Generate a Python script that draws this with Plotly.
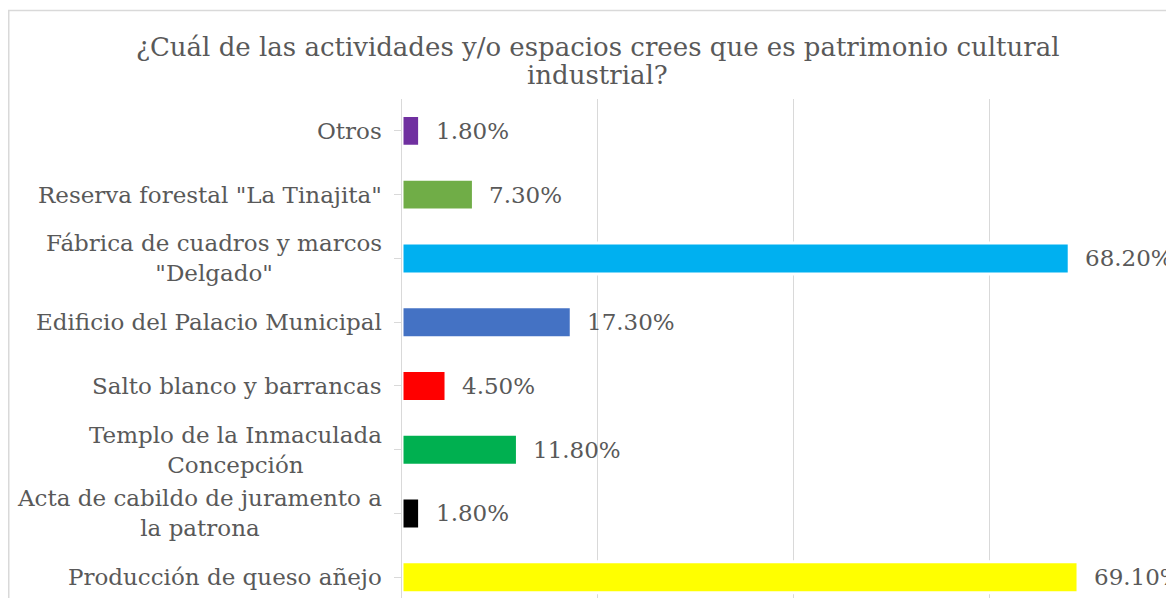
import plotly.graph_objects as go

# Data (bottom to top, as plotly stacks categories)
categories = [
    "Producción de queso añejo",
    "Acta de cabildo de juramento a<br>la patrona",
    "Templo de la Inmaculada<br>Concepción",
    "Salto blanco y barrancas",
    "Edificio del Palacio Municipal",
    "Fábrica de cuadros y marcos<br>\"Delgado\"",
    "Reserva forestal \"La Tinajita\"",
    "Otros",
]
values = [69.1, 1.8, 11.8, 4.5, 17.3, 68.2, 7.3, 1.8]
labels = ["69.10%", "1.80%", "11.80%", "4.50%", "17.30%", "68.20%", "7.30%", "1.80%"]
colors = ["#FFFF00", "#000000", "#00B050", "#FF0000", "#4472C4", "#00B0F0", "#70AD47", "#7030A0"]
title_lines = ["¿Cuál de las actividades y/o espacios crees que es patrimonio cultural", "industrial?"]

FONT = "DejaVu Serif"
TXT = "#595959"
GRID = "#D9D9D9"

fig = go.Figure()
fig.add_trace(go.Bar(
    y=list(range(len(categories))),
    x=values,
    orientation="h",
    marker=dict(color=colors, line=dict(color="white", width=3)),
    width=0.486,
    hoverinfo="skip",
))

annotations = []
for i, (cat, v, lab) in enumerate(zip(categories, values, labels)):
    annotations.append(dict(
        x=v, y=i, xref="x", yref="y", text=lab, showarrow=False,
        xanchor="left", yanchor="middle", xshift=14,
        font=dict(family=FONT, size=23, color=TXT),
    ))
    annotations.append(dict(
        x=0, y=i, xref="paper", yref="y", text=cat, showarrow=False,
        xanchor="right", yanchor="middle", xshift=-18, align="center",
        font=dict(family=FONT, size=23, color=TXT),
    ))

for ty, line in zip([1.1042, 1.0481], title_lines):
    annotations.append(dict(
        x=0.2526, y=ty, xref="paper", yref="paper", text=line, showarrow=False,
        xanchor="center", yanchor="middle",
        font=dict(family=FONT, size=26, color=TXT),
    ))

fig.update_layout(
    width=1166, height=590,
    margin=dict(l=394, r=0, t=91, b=0, pad=0),
    paper_bgcolor="white", plot_bgcolor="white",
    showlegend=False,
    xaxis=dict(range=[0, 78.91], showgrid=True, gridcolor=GRID, gridwidth=1,
               dtick=20, tick0=0, zeroline=False, showticklabels=False, ticks=""),
    yaxis=dict(range=[-0.327, 7.5], showline=True, linecolor=GRID, linewidth=1,
               ticks="outside", ticklen=7, tickcolor=GRID, tickson="boundaries",
               showticklabels=False, showgrid=False, zeroline=False,
               tickmode="array", tickvals=list(range(len(categories)))),
    annotations=annotations,
    shapes=[dict(type="rect", xref="paper", yref="paper",
                 x0=-0.5094, x1=1.05, y0=-0.05, y1=1.1774,
                 line=dict(color=GRID, width=1.5), layer="below")],
)

fig.write_html("out.html")
